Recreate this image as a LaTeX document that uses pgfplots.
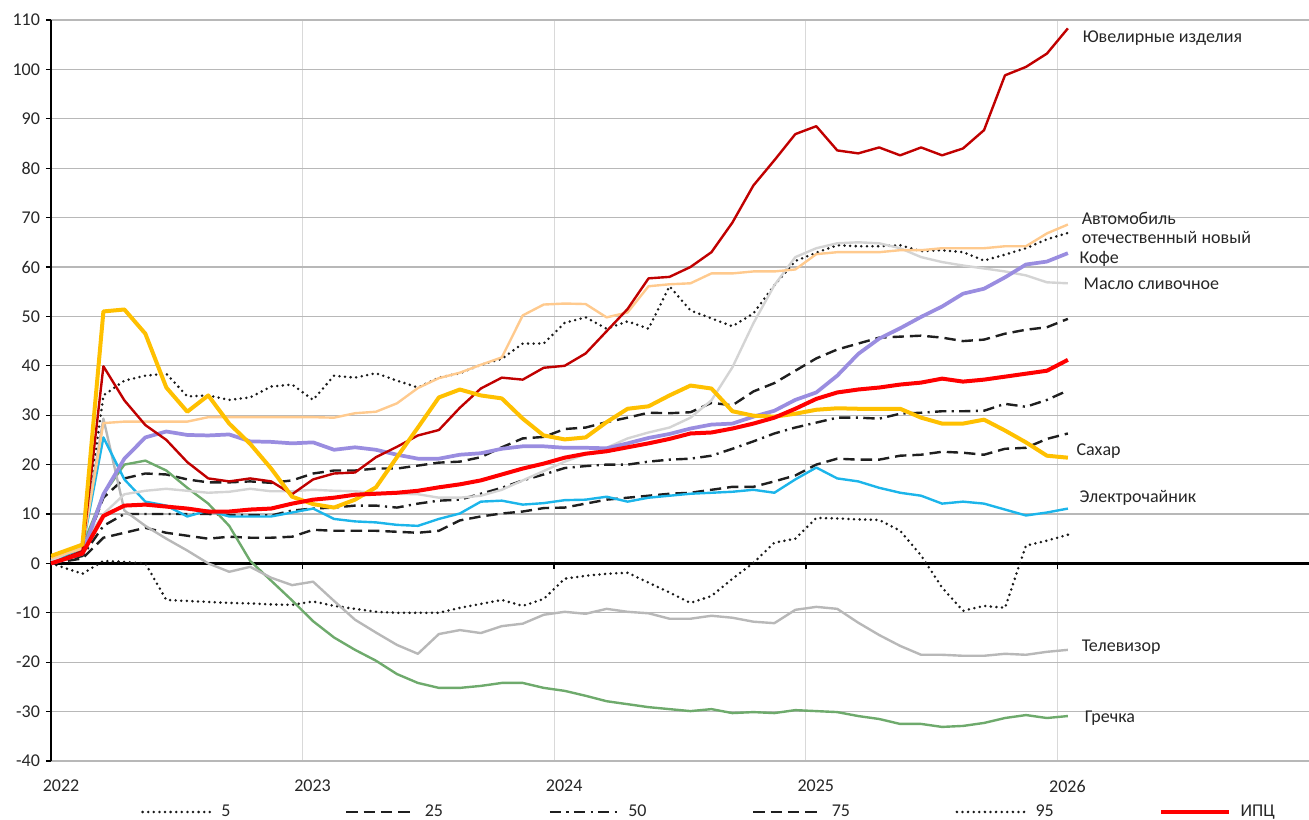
\documentclass[border=0pt]{standalone}
\usepackage{fontspec}
\setmainfont{Carlito}
\usepackage{pgfplots}
\pgfplotsset{compat=1.18}
\usepackage{pgfplotstable}

\definecolor{jewred}{HTML}{C00000}
\definecolor{autoorange}{HTML}{FFCA8E}
\definecolor{coffee}{HTML}{9A8DE0}
\definecolor{butter}{HTML}{D4D4D4}
\definecolor{sugar}{HTML}{FFC000}
\definecolor{kettle}{HTML}{1CB5EA}
\definecolor{tvgray}{HTML}{B8B8B8}
\definecolor{buckwheat}{HTML}{6EAA6C}
\definecolor{cpired}{HTML}{FF0000}

% x = months since Jan 2022 (points mid-month)
\pgfplotstableread{
x    jew   auto  cof   but   sug   ket   tv    gre   cpi   p5    p25   p50   p75   p95
0    0     1     0     0.5   1.5   0.5   0.5   0.5   0     0     0     0     0     0.5
1.5  2.5   3     2     3.5   3.8   3     4     3.5   2     -2.1  1     1.5   2     3
2.5  39.9  28.4  14    10    51    25.5  29.3  14    9.6   0.5   5.2   7.6   13.3  34
3.5  33    28.7  21.2  14    51.4  17    10.7  20    11.7  0.3   6.2   10    17.2  37
4.5  28    28.7  25.5  14.7  46.5  12.5  7.6   20.8  11.9  0     7.2   10    18.2  38
5.5  25    28.7  26.7  15.1  35.6  11.7  5     18.8  11.5  -7.4  6.2   10    18    38.4
6.5  20.5  28.7  26    14.7  30.7  9.5   2.6   15.3  11.1  -7.6  5.6   10    17    33.8
7.5  17.2  29.6  25.9  14.3  34    10.7  0     12.1  10.5  -7.8  5     10    16.4  34
8.5  16.6  29.6  26.1  14.5  28.3  9.5   -1.7  7.6   10.5  -8    5.4   9.8   16.4  33.1
9.5  17.2  29.6  24.7  15.1  24.2  9.5   -0.7  0.5   10.9  -8.1  5.2   9.8   16.6  33.6
10.5 16.6  29.6  24.6  14.6  19.2  9.5   -2.9  -3.5  11.1  -8.3  5.2   9.7   16.3  35.8
11.5 14    29.6  24.3  14.6  13.5  10.3  -4.4  -7.5  12.1  -8.4  5.4   10.7  16.8  36.2
12.5 17    29.6  24.5  14.9  12    11.1  -3.7  -11.7 12.9  -7.7  6.8   11.1  18.2  33.1
13.5 18.2  29.5  23    14.7  11.3  9     -7.6  -15   13.3  -8.6  6.6   11.3  18.8  38
14.5 18.4  30.4  23.5  14.6  12.9  8.5   -11.4 -17.5 13.9  -9.2  6.6   11.7  18.8  37.6
15.5 21.5  30.7  23    14.3  15.4  8.3   -14   -19.7 14.1  -9.8  6.6   11.7  19.2  38.5
16.5 23.6  32.4  22    14.1  21.5  7.8   -16.5 -22.4 14.3  -10   6.4   11.3  19.2  37
17.5 25.9  35.5  21.2  14    27.5  7.6   -18.3 -24.2 14.7  -10   6.2   12.1  19.8  35.6
18.5 27    37.5  21.2  13.3  33.6  9     -14.3 -25.2 15.4  -10   6.6   12.7  20.4  37.6
19.5 31.5  38.6  22    13.3  35.2  10.1  -13.5 -25.2 16    -9    8.7   12.9  20.6  38.5
20.5 35.4  40.2  22.3  13.7  34    12.5  -14.1 -24.8 16.8  -8.2  9.5   14.1  21.5  40.2
21.5 37.6  41.7  23.2  14.9  33.4  12.7  -12.7 -24.2 18    -7.4  10.1  15.3  23.5  41.4
22.5 37.2  50.2  23.7  16.8  29.3  11.9  -12.2 -24.2 19.2  -8.6  10.5  16.8  25.3  44.5
23.5 39.6  52.4  23.7  18.7  25.9  12.2  -10.4 -25.2 20.2  -7.2  11.2  18    25.6  44.5
24.5 40    52.6  23.4  20.6  25.1  12.8  -9.8  -25.8 21.4  -3.1  11.3  19.3  27.2  48.7
25.5 42.5  52.5  23.4  22.1  25.5  12.9  -10.2 -26.8 22.2  -2.5  12.1  19.7  27.5  49.8
26.5 47    49.8  23.3  23.4  28.6  13.5  -9.2  -27.9 22.7  -2.1  12.9  20    28.6  47.5
27.5 51.5  50.8  24.3  25.3  31.3  12.5  -9.8  -28.5 23.5  -1.9  13.3  20    29.5  49
28.5 57.7  56.1  25.4  26.5  31.8  13.3  -10.1 -29.1 24.3  -3.9  13.7  20.6  30.5  47.5
29.5 58    56.5  26.2  27.5  34    13.7  -11.2 -29.5 25.2  -5.9  14.1  21    30.4  56.1
30.5 60    56.7  27.3  29.5  36    14.1  -11.2 -29.9 26.3  -8    14.3  21.2  30.6  51.2
31.5 63    58.7  28.1  33    35.4  14.3  -10.6 -29.5 26.5  -6.6  14.9  21.8  32.5  49.6
32.5 69    58.7  28.3  39.7  30.8  14.5  -11   -30.3 27.3  -3.1  15.5  23.2  32    48
33.5 76.5  59.1  29.7  48.6  29.9  14.9  -11.8 -30.1 28.3  0.1   15.5  24.7  34.8  50.6
34.5 81.6  59.1  30.9  56.3  29.7  14.3  -12.1 -30.3 29.5  4.2   16.6  26.3  36.5  56.3
35.5 86.9  59.5  33.1  62    30.3  17    -9.4  -29.7 31.3  5     17.8  27.5  39    61.2
36.5 88.5  62.6  34.6  63.8  31.1  19.4  -8.8  -29.9 33.3  9.2   20    28.5  41.5  62.9
37.5 83.6  63    38    64.8  31.4  17.2  -9.2  -30.1 34.6  9.1   21.2  29.5  43.3  64.4
38.5 83    63    42.4  65    31.3  16.6  -12   -30.9 35.2  8.9   21    29.5  44.5  64.2
39.5 84.2  63    45.5  64.8  31.3  15.3  -14.5 -31.5 35.6  8.8   21    29.3  45.7  64.2
40.5 82.6  63.4  47.6  63.8  31.3  14.3  -16.7 -32.5 36.2  6.6   21.8  30.3  45.9  64.4
41.5 84.2  63.4  49.9  62    29.5  13.7  -18.5 -32.5 36.6  1.6   22    30.5  46.1  63.2
42.5 82.6  63.8  52    61    28.3  12.1  -18.5 -33.1 37.4  -4.9  22.6  30.8  45.7  63.4
43.5 84    63.8  54.6  60.3  28.3  12.5  -18.7 -32.9 36.8  -9.6  22.4  30.8  45    63
44.5 87.7  63.8  55.6  59.7  29.1  12.1  -18.7 -32.3 37.2  -8.6  22    30.9  45.3  61.3
45.5 98.8  64.2  57.9  59.1  26.9  10.9  -18.3 -31.3 37.8  -9    23.2  32.3  46.5  62.5
46.5 100.5 64.2  60.5  58.3  24.5  9.7   -18.5 -30.7 38.4  3.6   23.4  31.7  47.3  63.8
47.5 103.2 66.8  61.1  56.9  21.8  10.3  -17.9 -31.3 39    4.6   25.2  33.1  47.8  65.6
48.5 108.3 68.6  62.8  56.7  21.4  11.1  -17.5 -30.9 41.2  5.8   26.3  35    49.5  66.9
}\data

\tikzset{
  dotline/.style={black!90, line width=2.1pt, line cap=round, dash pattern=on 0pt off 4.2pt},
  dashline/.style={black!88, line width=1.8pt, dash pattern=on 8.5pt off 4.5pt},
  dashdotline/.style={black!88, line width=1.8pt, dash pattern=on 8.5pt off 4pt on 1.6pt off 4pt},
  lbl/.style={anchor=west, align=left, inner sep=0pt, font=\fontsize{13.5}{14.25}\selectfont, text=black!85}
}

\begin{document}
\begin{tikzpicture}
\path[use as bounding box] (-38.25pt,-44.25pt) rectangle (943.5pt,570.75pt);
\begin{axis}[
  at={(0,0)}, anchor=south west,
  scale only axis, width=943.5pt, height=555.75pt,
  xmin=0, xmax=60, ymin=-40, ymax=110,
  enlargelimits=false, clip mode=individual,
  no markers,
  axis x line*=bottom, axis y line*=left,
  x axis line style={draw=none},
  y axis line style={black, line width=1.2pt},
  xtick={0,12,24,36,48},
  xticklabels={2022,2023,2024,2025,2026},
  ytick={-40,-30,...,110},
  xtick style={draw=none},
  ytick style={black, line width=1pt},
  tick align=outside, major tick length=3.75pt,
  xmajorgrids, ymajorgrids,
  x grid style={color=black!15, line width=0.9pt},
  y grid style={color=black!28, line width=0.9pt},
  ticklabel style={font=\fontsize{13.5}{14}\selectfont, text=black!85},
  /pgf/number format/assume math mode=true,
  xticklabel style={xshift=7.5pt, yshift=-7pt},
  yticklabel style={xshift=-1pt},
  legend columns=6,
  legend cell align=left,
  legend style={at={(0.0715,-0.0688)}, anchor=west, draw=none, fill=none,
    inner sep=0pt, nodes={inner sep=0pt},
    font=\fontsize{13.5}{14}\selectfont, text=black!85,
    /tikz/every odd column/.append style={column sep=7pt}},
  legend image code/.code={\draw[#1] (0pt,0pt) -- (51pt,0pt);},
]
% zero line with year ticks
\draw[black, line width=1.7pt] (axis cs:0,0) -- (axis cs:60,0);
\pgfplotsinvokeforeach{0,12,24,36,48}{
  \draw[black, line width=1.2pt] (axis cs:#1,0) -- ++(0pt,-4.5pt);
}

\addplot[dotline] table[x=x,y=p5] {\data};
\addlegendentry{\makebox[92.8pt][l]{5}}
\addplot[dashline] table[x=x,y=p25] {\data};
\addlegendentry{\makebox[92.8pt][l]{25}}
\addplot[dashdotline] table[x=x,y=p50] {\data};
\addlegendentry{\makebox[92.8pt][l]{50}}
\addplot[dashline] table[x=x,y=p75] {\data};
\addlegendentry{\makebox[92.8pt][l]{75}}
\addplot[dotline] table[x=x,y=p95] {\data};
\addlegendentry{\makebox[92.8pt][l]{95}}

\addplot[buckwheat, line width=1.8pt, line join=round, forget plot] table[x=x,y=gre] {\data};
\addplot[tvgray, line width=1.8pt, line join=round, forget plot] table[x=x,y=tv] {\data};
\addplot[kettle, line width=1.8pt, line join=round, forget plot] table[x=x,y=ket] {\data};
\addplot[butter, line width=1.8pt, line join=round, forget plot] table[x=x,y=but] {\data};
\addplot[autoorange, line width=1.8pt, line join=round, forget plot] table[x=x,y=auto] {\data};
\addplot[coffee, line width=2.8pt, line join=round, forget plot] table[x=x,y=cof] {\data};
\addplot[jewred, line width=1.8pt, line join=round, forget plot] table[x=x,y=jew] {\data};
\addplot[sugar, line width=3pt, line join=round, forget plot] table[x=x,y=sug] {\data};

\addplot[cpired, line width=3pt, line join=round] table[x=x,y=cpi] {\data};
\addlegendentry{ИПЦ}

\node[lbl] at (axis cs:49.2,106.4) {Ювелирные изделия};
\node[lbl] at (axis cs:49.15,68) {Автомобиль\\отечественный новый};
\node[lbl] at (axis cs:49.05,61.7) {Кофе};
\node[lbl] at (axis cs:49.24,56.7) {Масло сливочное};
\node[lbl] at (axis cs:48.9,22.8) {Сахар};
\node[lbl] at (axis cs:49.05,13.3) {Электрочайник};
\node[lbl] at (axis cs:49.15,-16.9) {Телевизор};
\node[lbl] at (axis cs:49.3,-31.3) {Гречка};
\end{axis}
\end{tikzpicture}
\end{document}
